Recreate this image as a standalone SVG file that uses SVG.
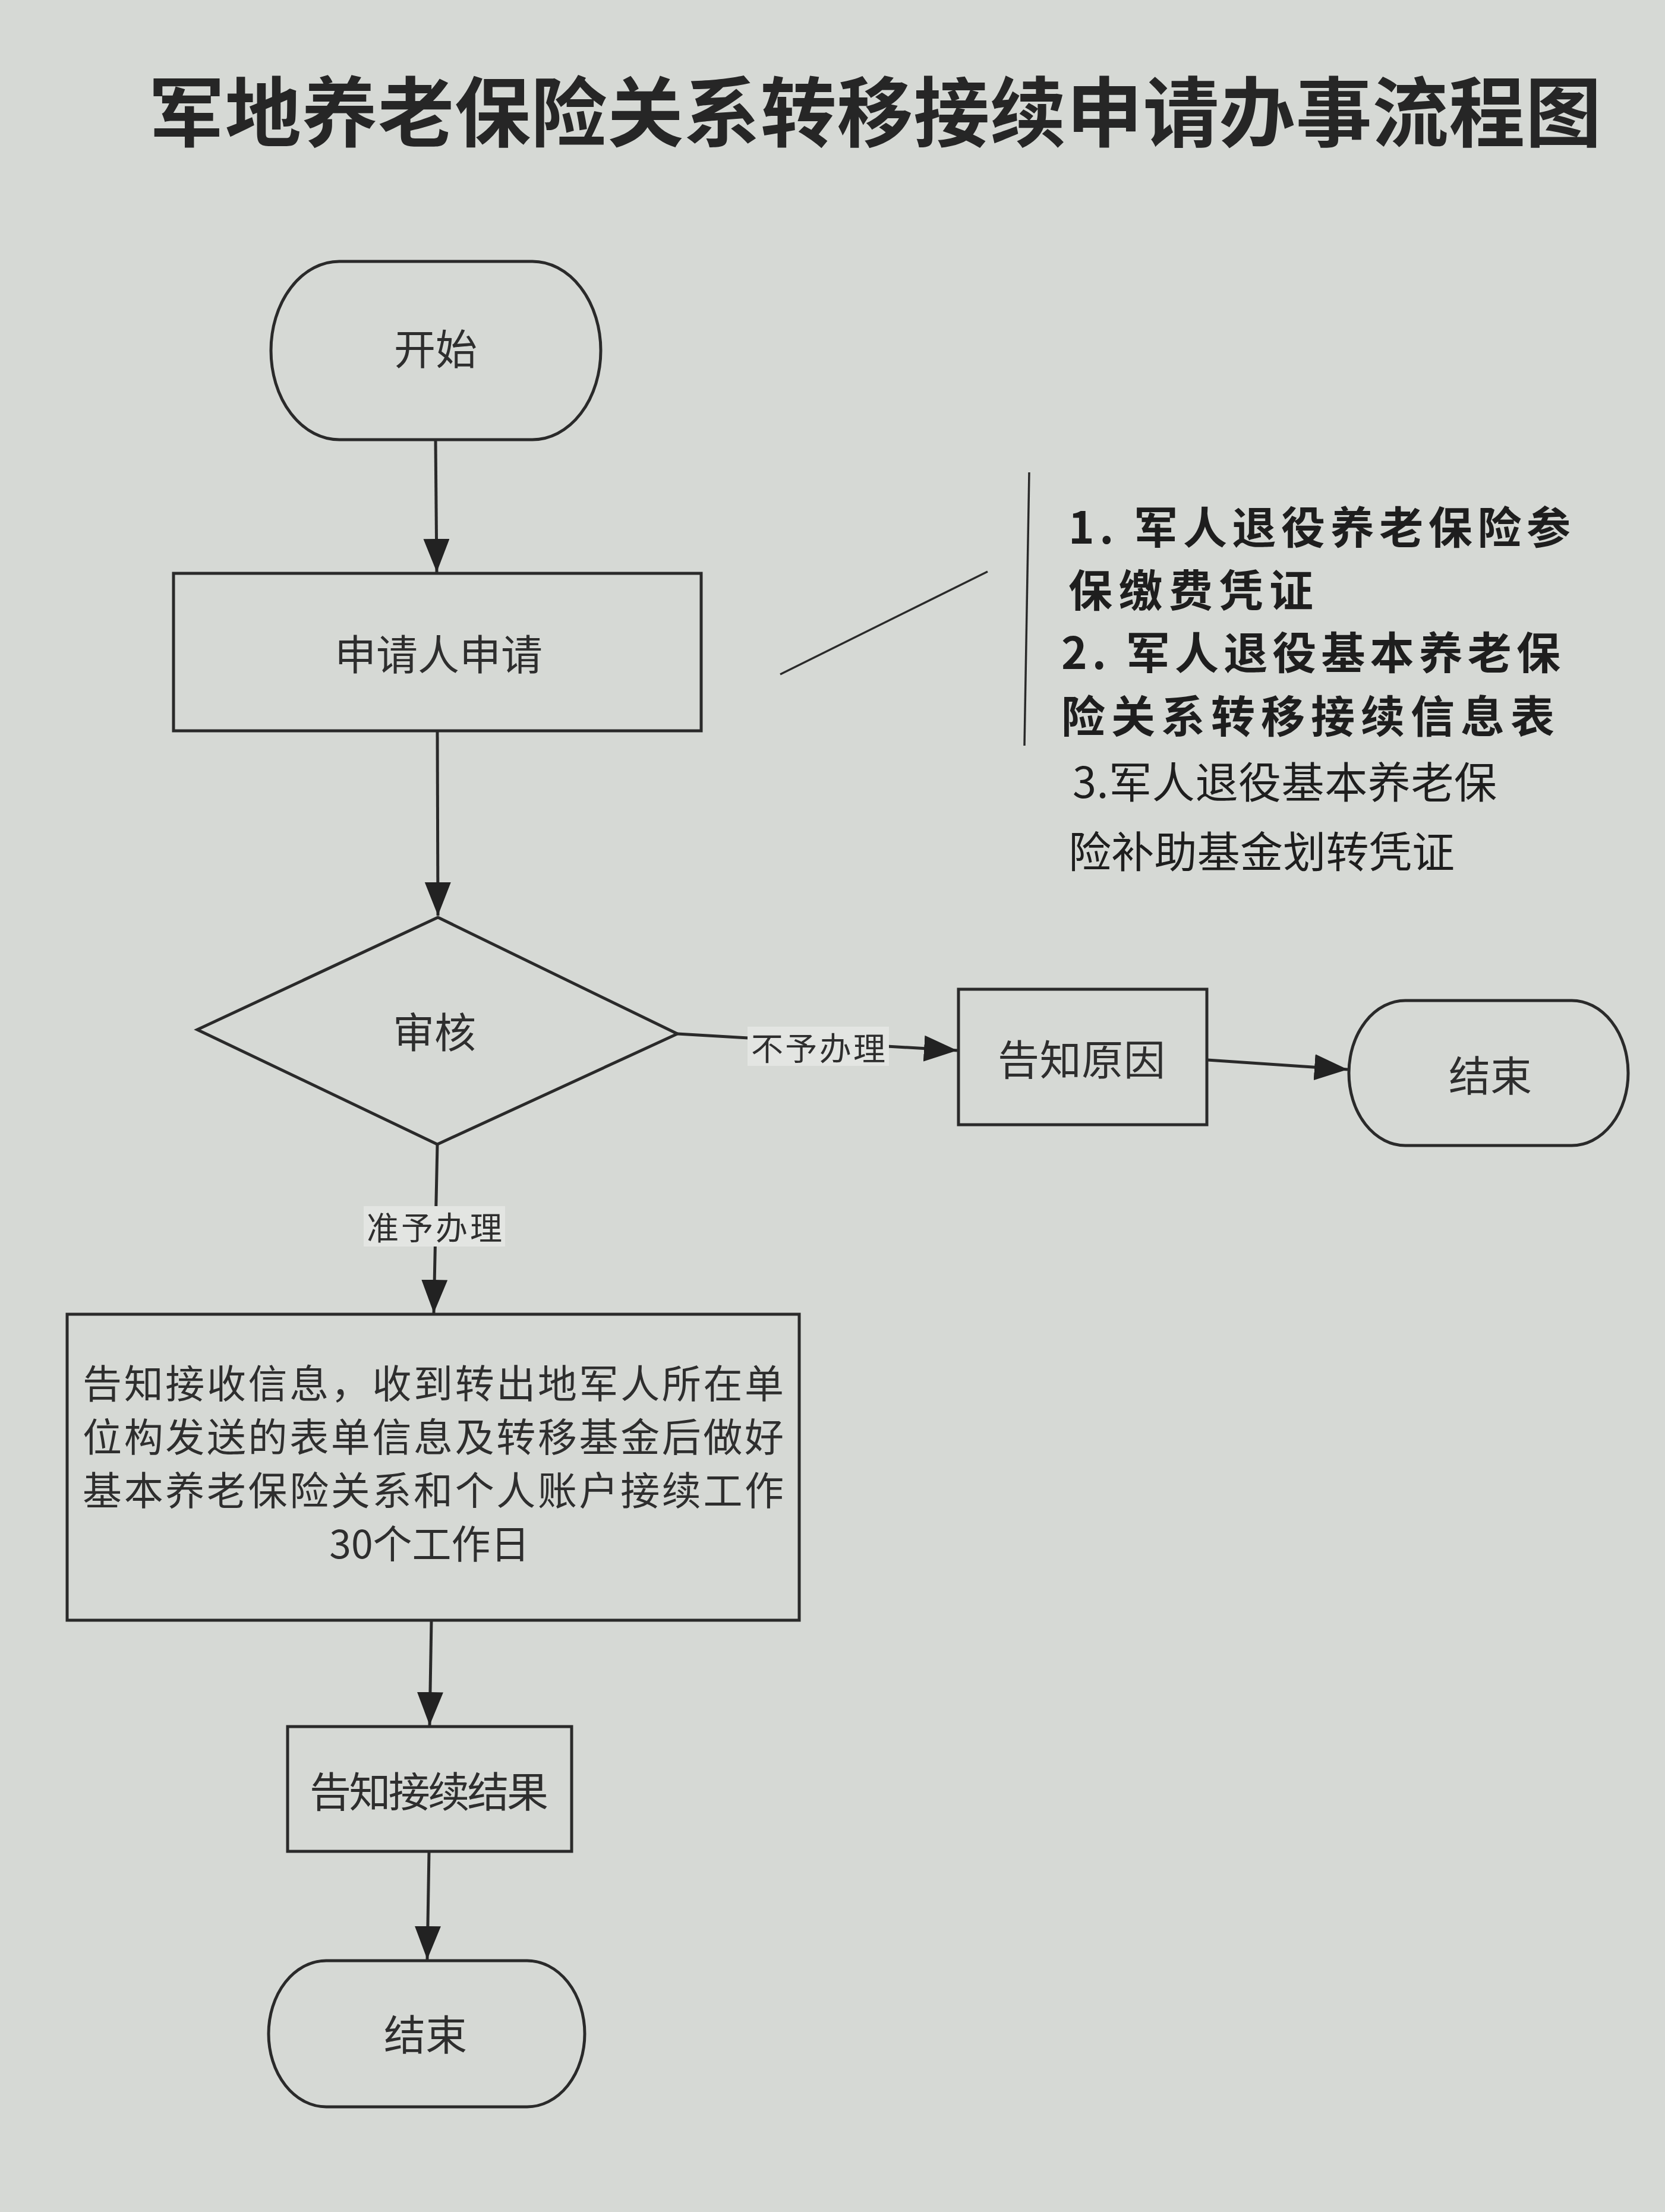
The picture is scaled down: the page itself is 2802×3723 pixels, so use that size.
<svg xmlns="http://www.w3.org/2000/svg" width="2802" height="3723" viewBox="0 0 2802 3723">
<defs>
<style>
.bg{fill:#d6d9d5}
.shape{fill:none;stroke:#2a2a2a;stroke-width:5}
.conn{fill:none;stroke:#2a2a2a;stroke-width:5}
.thin{fill:none;stroke:#2a2a2a;stroke-width:3.5}
.t{font-family:"Noto Sans CJK SC","Liberation Sans",sans-serif;fill:#2e2e2e;text-anchor:middle;dominant-baseline:central}
.node{font-size:70px}
.body{font-size:66px}
.lbl{font-size:54px}
.lblbg{fill:#e3e5e2}
.title{font-family:"Noto Sans CJK SC","Liberation Sans",sans-serif;font-size:128px;font-weight:bold;fill:#262626;dominant-baseline:central}
.note{font-family:"Noto Sans CJK SC","Liberation Sans",sans-serif;fill:#1e1e1e;dominant-baseline:central}
.nb{font-size:74px;font-weight:bold}
.nr{font-size:72px;font-weight:normal}
</style>
<marker id="arr" markerUnits="userSpaceOnUse" markerWidth="60" markerHeight="46" refX="56" refY="22" orient="auto">
<path d="M0,0 L56,22 L0,44 Z" fill="#222"/>
</marker>
</defs>
<rect class="bg" x="0" y="0" width="2802" height="3723"/>
<text class="title" x="250" y="181" textLength="2445" lengthAdjust="spacing">军地养老保险关系转移接续申请办事流程图</text>

<g id="connectors">
<line class="conn" x1="733" y1="740" x2="735" y2="963" marker-end="url(#arr)"/>
<line class="conn" x1="736" y1="1230" x2="737" y2="1541" marker-end="url(#arr)"/>
<line class="conn" x1="1140" y1="1740" x2="1611" y2="1768" marker-end="url(#arr)"/>
<line class="conn" x1="2031" y1="1784" x2="2268" y2="1800" marker-end="url(#arr)"/>
<line class="conn" x1="736" y1="1926" x2="730" y2="2210" marker-end="url(#arr)"/>
<line class="conn" x1="726" y1="2727" x2="723" y2="2904" marker-end="url(#arr)"/>
<line class="conn" x1="722" y1="3116" x2="719" y2="3298" marker-end="url(#arr)"/>
<rect class="lblbg" x="1258" y="1728" width="238" height="66"/>
<text class="t lbl" x="1377" y="1761" textLength="226" lengthAdjust="spacing">不予办理</text>
<rect class="lblbg" x="612" y="2030" width="238" height="68"/>
<text class="t lbl" x="731" y="2063" textLength="228" lengthAdjust="spacing">准予办理</text>
</g>

<g id="start">
<path class="shape" d="M571,440 H896 A115,150 0 0 1 896,740 H571 A115,150 0 0 1 571,440 Z"/>
<text class="t node" x="733" y="583">开始</text>
</g>

<g id="apply">
<rect class="shape" x="292" y="965" width="888" height="265"/>
<text class="t node" x="738" y="1097" textLength="350" lengthAdjust="spacing">申请人申请</text>
</g>

<g id="note">
<line class="thin" x1="1313" y1="1135" x2="1662" y2="962"/>
<line class="thin" x1="1732" y1="795" x2="1724" y2="1255"/>
<text class="note nb" x="1798" y="882" textLength="845" lengthAdjust="spacing">1. 军人退役养老保险参</text>
<text class="note nb" x="1798" y="988" textLength="412" lengthAdjust="spacing">保缴费凭证</text>
<text class="note nb" x="1786" y="1093" textLength="840" lengthAdjust="spacing">2. 军人退役基本养老保</text>
<text class="note nb" x="1786" y="1200" textLength="830" lengthAdjust="spacing">险关系转移接续信息表</text>
<text class="note nr" x="1805" y="1311" textLength="714" lengthAdjust="spacing">3.军人退役基本养老保</text>
<text class="note nr" x="1798" y="1428" textLength="650" lengthAdjust="spacing">险补助基金划转凭证</text>
</g>

<g id="review">
<polygon class="shape" points="737,1544 1140,1740 736,1926 332,1733"/>
<text class="t node" x="731" y="1733">审核</text>
</g>

<g id="reason">
<rect class="shape" x="1613" y="1665" width="418" height="228"/>
<text class="t node" x="1820" y="1779" textLength="282" lengthAdjust="spacing">告知原因</text>
</g>

<g id="end1">
<path class="shape" d="M2365,1684 H2645 A95,122 0 0 1 2645,1928 H2365 A95,122 0 0 1 2365,1684 Z"/>
<text class="t node" x="2508" y="1806">结束</text>
</g>

<g id="receive">
<rect class="shape" x="113" y="2212" width="1232" height="515"/>
<text class="t body" x="729" y="2324" textLength="1180" lengthAdjust="spacing">告知接收信息，收到转出地军人所在单</text>
<text class="t body" x="729" y="2414" textLength="1180" lengthAdjust="spacing">位构发送的表单信息及转移基金后做好</text>
<text class="t body" x="729" y="2504" textLength="1180" lengthAdjust="spacing">基本养老保险关系和个人账户接续工作</text>
<text class="t body" x="723" y="2594">30个工作日</text>
</g>

<g id="result">
<rect class="shape" x="484" y="2906" width="478" height="210"/>
<text class="t node" x="722" y="3011" textLength="402" lengthAdjust="spacing">告知接续结果</text>
</g>

<g id="end2">
<path class="shape" d="M549,3300 H887 A97,123 0 0 1 887,3546 H549 A97,123 0 0 1 549,3300 Z"/>
<text class="t node" x="716" y="3420">结束</text>
</g>
</svg>
